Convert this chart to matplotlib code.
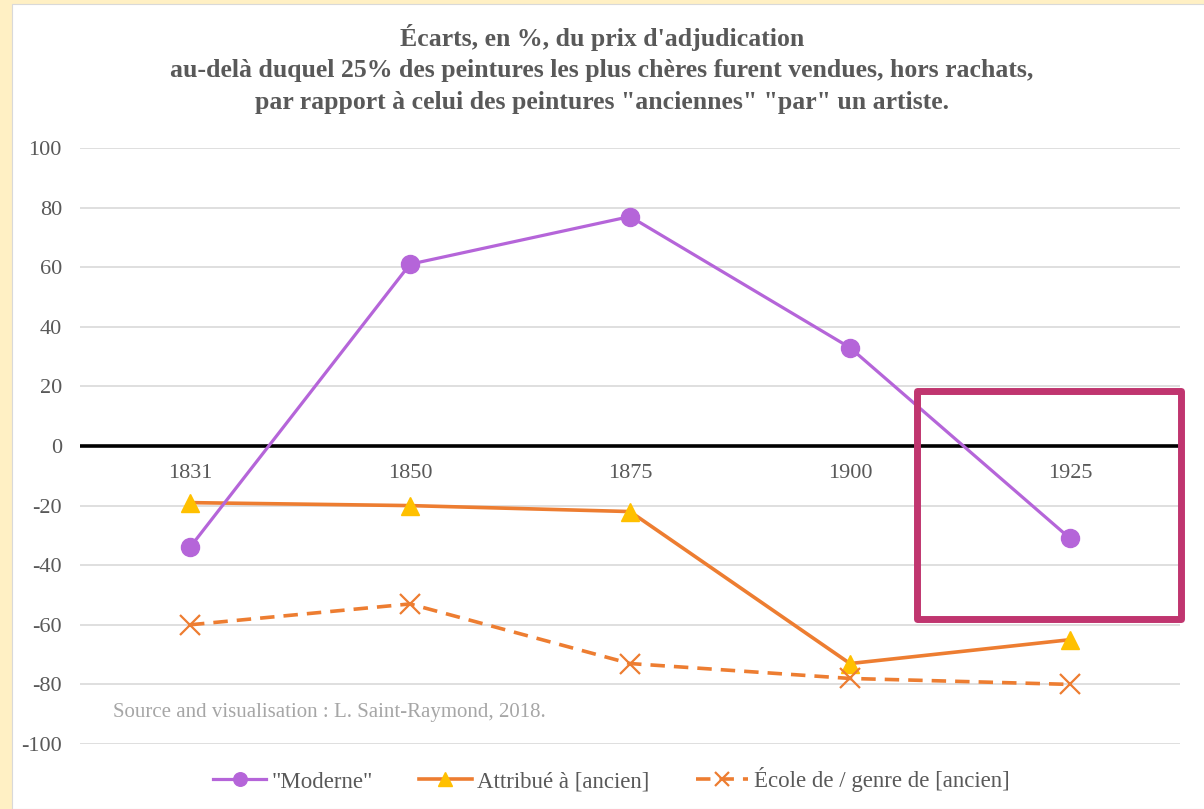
import matplotlib.pyplot as plt
from matplotlib.patches import Rectangle

years = ['1831', '1850', '1875', '1900', '1925']
moderne = [-34, 61, 77, 33, -31]
attribue = [-19, -20, -22, -73, -65]
ecole = [-60, -53, -73, -78, -80]
yticks = [100, 80, 60, 40, 20, 0, -20, -40, -60, -80, -100]

title = ("Écarts, en %, du prix d'adjudication\n"
         "au-delà duquel 25% des peintures les plus chères furent vendues, hors rachats,\n"
         "par rapport à celui des peintures \"anciennes\" \"par\" un artiste.")
source = "Source and visualisation : L. Saint-Raymond, 2018."

plt.rcParams['font.family'] = ['Liberation Serif', 'DejaVu Serif']
grey = '#595959'

W, H = 1204, 809
fig = plt.figure(figsize=(W / 100, H / 100), dpi=100)
fig.patch.set_facecolor('#FFF0C4')
# white panel inside the pale yellow frame
fig.patches.append(Rectangle((12 / W, 0), 1, 1 - 4 / H, transform=fig.transFigure,
                             facecolor='white', edgecolor='#D9D9D9', lw=0.8, zorder=-5))

ax = fig.add_axes([80 / W, 65 / H, 1100 / W, 596 / H])
ax.set_facecolor('none')
x = list(range(len(years)))

ax.plot(x, moderne, color='#B565D9', lw=2.3, marker='o', ms=13, label='"Moderne"', zorder=4)
ax.plot(x, attribue, color='#ED7D31', lw=2.6, marker='^', ms=13.5, mfc='#FFC000', mec='#FFC000',
        label='Attribué à [ancien]', zorder=3)
ax.plot(x, ecole, color='#ED7D31', lw=2.6, ls=(0, (4, 2.5)), marker='x', ms=14, mew=1.6,
        label='École de / genre de [ancien]', zorder=3)

ax.set_xlim(-0.5, len(years) - 0.5)
ax.set_ylim(-100, 100)
ax.set_yticks(yticks)
ax.set_yticklabels([str(v) for v in yticks])
ax.tick_params(axis='y', length=0, pad=13, labelsize=16, labelcolor=grey)
ax.set_xticks([])
ax.grid(axis='y', color='#D9D9D9', lw=1.2)
ax.set_axisbelow(True)
for s in ax.spines.values():
    s.set_visible(False)
ax.axhline(0, color='black', lw=2.6, zorder=2)

for i, yr in enumerate(years):
    ax.annotate(yr, xy=(i, 0), xytext=(0, -20), textcoords='offset points',
                ha='center', va='center', fontsize=16, color=grey)

fig.text(0.5, 1 - 69 / H, title, ha='center', va='center', fontsize=18.5,
         fontweight='bold', color=grey, linespacing=1.45)
fig.text(113 / W, 1 - 713 / H, source, ha='left', va='center', fontsize=15, color='#A6A6A6')

fig.legend(loc='center', bbox_to_anchor=(0.508, 1 - 780 / H), ncol=3, frameon=False,
           fontsize=16.5, labelcolor=grey, handlelength=2.3, columnspacing=2.0,
           handletextpad=0.25, markerscale=0.75)

# highlight box around 1925
fig.patches.append(Rectangle((917 / W, 1 - 619 / H), 264 / W, 228 / H, transform=fig.transFigure,
                             fill=False, edgecolor='#C0356F', lw=5, joinstyle='round', zorder=10))

fig.savefig('out.png', dpi=100)
